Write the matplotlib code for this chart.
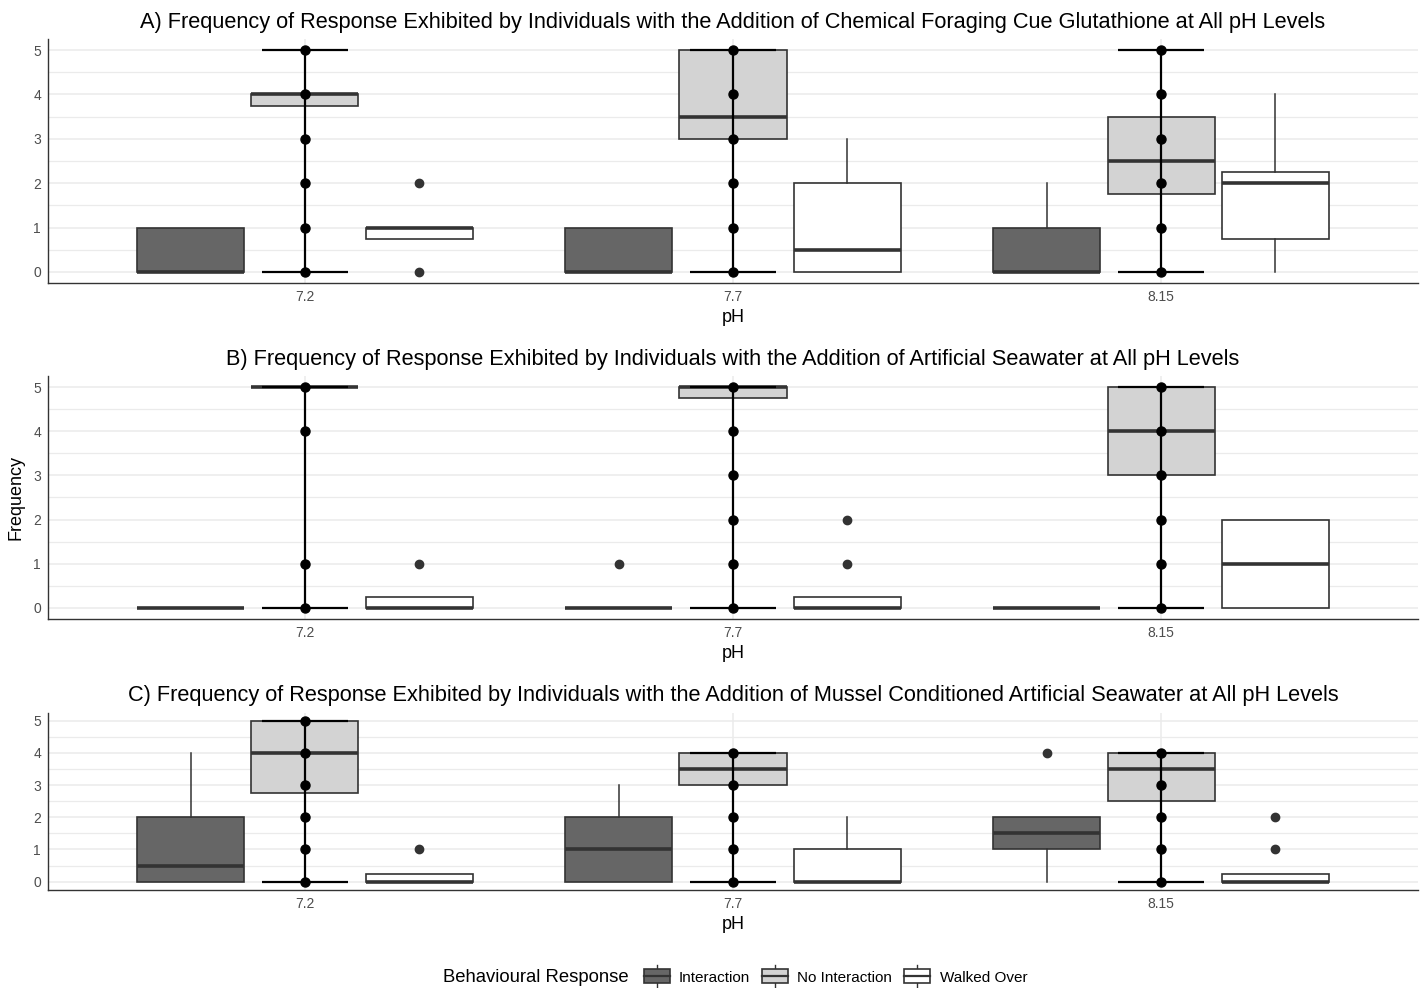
import numpy as np
import matplotlib
matplotlib.use('Agg')
from matplotlib import pyplot as plt
from matplotlib.patches import Patch, Rectangle
from matplotlib.lines import Line2D
from matplotlib.legend_handler import HandlerBase

plt.rcParams['font.family'] = ['Liberation Sans', 'DejaVu Sans']

#%% Datos
ph_niveles = ['7.2', '7.7', '8.15']
respuestas = ['Interaction', 'No Interaction', 'Walked Over']
colores = ['#666666', '#d3d3d3', '#ffffff']

titulos = [
    'A) Frequency of Response Exhibited by Individuals with the Addition of Chemical Foraging Cue Glutathione at All pH Levels',
    'B) Frequency of Response Exhibited by Individuals with the Addition of Artificial Seawater at All pH Levels',
    'C) Frequency of Response Exhibited by Individuals with the Addition of Mussel Conditioned Artificial Seawater at All pH Levels',
]

# cada caja: (bigote_inf, q1, mediana, q3, bigote_sup, atipicos), una por pH
# A) glutatión
glut_inter = [(0, 0, 0, 1, 1, []), (0, 0, 0, 1, 1, []), (0, 0, 0, 1, 2, [])]
glut_noint = [(3.75, 3.75, 4, 4, 4, []), (3, 3, 3.5, 5, 5, []), (0, 1.75, 2.5, 3.5, 5, [])]
glut_walk = [(0.75, 0.75, 1, 1, 1, [0, 2]), (0, 0, 0.5, 2, 3, []), (0, 0.75, 2, 2.25, 4, [])]
glut_puntos = [[0, 1, 2, 3, 4, 5], [0, 1, 2, 3, 4, 5], [0, 1, 2, 3, 4, 5]]

# B) agua de mar artificial
asw_inter = [(0, 0, 0, 0, 0, []), (0, 0, 0, 0, 0, [1]), (0, 0, 0, 0, 0, [])]
asw_noint = [(5, 5, 5, 5, 5, []), (4.75, 4.75, 5, 5, 5, []), (3, 3, 4, 5, 5, [])]
asw_walk = [(0, 0, 0, 0.25, 0.25, [1]), (0, 0, 0, 0.25, 0.25, [1, 2]), (0, 0, 1, 2, 2, [])]
asw_puntos = [[0, 1, 4, 5], [0, 1, 2, 3, 4, 5], [0, 1, 2, 3, 4, 5]]

# C) agua acondicionada con mejillones
mus_inter = [(0, 0, 0.5, 2, 4, []), (0, 0, 1, 2, 3, []), (0, 1, 1.5, 2, 2, [4])]
mus_noint = [(2.75, 2.75, 4, 5, 5, []), (3, 3, 3.5, 4, 4, []), (2.5, 2.5, 3.5, 4, 4, [])]
mus_walk = [(0, 0, 0, 0.25, 0.25, [1]), (0, 0, 0, 1, 2, []), (0, 0, 0, 0.25, 0.25, [1, 2])]
mus_puntos = [[0, 1, 2, 3, 4, 5], [0, 1, 2, 3, 4], [0, 1, 2, 3, 4]]

paneles = [
    (glut_inter, glut_noint, glut_walk, glut_puntos),
    (asw_inter, asw_noint, asw_walk, asw_puntos),
    (mus_inter, mus_noint, mus_walk, mus_puntos),
]

W, H = 1426, 988
BORDE = '#333333'


def rect_px(izq, arriba, der, abajo):
    """Convierte una caja en pixeles a coordenadas de figura."""
    return [izq / W, 1 - abajo / H, (der - izq) / W, (abajo - arriba) / H]


def a_stats(cajas):
    stats = []
    for lo, q1, med, q3, hi, out in cajas:
        stats.append({'whislo': lo, 'q1': q1, 'med': med, 'q3': q3,
                      'whishi': hi, 'fliers': out})
    return stats


class ManejadorCaja(HandlerBase):
    """Dibuja la clave de la leyenda como una cajita de boxplot."""
    def create_artists(self, legend, orig_handle, xdescent, ydescent,
                       width, height, fontsize, trans):
        x0, y0 = -xdescent, -ydescent
        cx = x0 + width / 2
        bigote = Line2D([cx, cx], [y0 - 0.3 * height, y0 + 1.3 * height],
                        color=BORDE, lw=1.0, transform=trans)
        caja = Rectangle((x0, y0), width, height,
                         facecolor=orig_handle.get_facecolor(),
                         edgecolor=BORDE, lw=1.2, transform=trans)
        mediana = Line2D([x0, x0 + width], [y0 + height / 2] * 2,
                         color=BORDE, lw=1.6, transform=trans)
        return [bigote, caja, mediana]


#%% Grafico
fig = plt.figure(figsize=(W / 100, H / 100), dpi=100)

posiciones = [(48, 39, 1418, 283), (48, 376, 1418, 619), (48, 712.6, 1418, 889.7)]
x_grupo = np.arange(1, len(ph_niveles) + 1)
desplaz = [-0.8 / 3, 0, 0.8 / 3]

for k, (datos, pos) in enumerate(zip(paneles, posiciones)):
    ax = fig.add_axes(rect_px(*pos))
    cajas_inter, cajas_noint, cajas_walk, puntos = datos

    for j, cajas in enumerate([cajas_inter, cajas_noint, cajas_walk]):
        ax.bxp(a_stats(cajas), positions=x_grupo + desplaz[j], widths=0.25,
               patch_artist=True, showcaps=False,
               boxprops=dict(facecolor=colores[j], edgecolor=BORDE, linewidth=1.2),
               medianprops=dict(color=BORDE, linewidth=2.6, solid_capstyle='butt'),
               whiskerprops=dict(color=BORDE, linewidth=1.1),
               flierprops=dict(marker='o', markerfacecolor=BORDE,
                               markeredgecolor=BORDE, markersize=6),
               manage_ticks=False, zorder=2)

    # barra de rango y puntos de "No Interaction"
    for i, pts in enumerate(puntos):
        xi = x_grupo[i]
        ax.vlines(xi, min(pts), max(pts), color='black', lw=1.6, zorder=4)
        ax.hlines([min(pts), max(pts)], xi - 0.1, xi + 0.1, color='black',
                  lw=1.6, zorder=4)
        ax.plot([xi] * len(pts), pts, 'o', color='black', markersize=6.5,
                zorder=5)

    ax.set_xlim(0.4, 3.6)
    ax.set_ylim(-0.25, 5.25)
    ax.set_xticks(x_grupo)
    ax.set_xticklabels(ph_niveles)
    ax.set_yticks(np.arange(0, 6))
    ax.set_yticks(np.arange(0.5, 5, 1), minor=True)
    ax.tick_params(axis='both', which='both', length=0, labelsize=10,
                   labelcolor='#4d4d4d', pad=5)
    ax.grid(which='major', color='#ebebeb', lw=1.1, zorder=0)
    ax.grid(which='minor', axis='y', color='#ebebeb', lw=0.9, zorder=0)
    ax.set_axisbelow(True)
    for lado in ['top', 'right']:
        ax.spines[lado].set_visible(False)
    for lado in ['left', 'bottom']:
        ax.spines[lado].set_color('#333333')
        ax.spines[lado].set_linewidth(1.0)

    ax.set_title(titulos[k], fontsize=15.7, pad=8)
    ax.set_xlabel('pH', fontsize=13, labelpad=4)
    if k == 1:
        ax.set_ylabel('Frequency', fontsize=13, labelpad=6)

# leyenda
fig.text(443 / W, 1 - 977 / H, 'Behavioural Response', fontsize=13.3,
         ha='left', va='center')
manijas = [Patch(facecolor=c, edgecolor=BORDE) for c in colores]
fig.legend(manijas, respuestas, loc='center left',
           bbox_to_anchor=(636 / W, 1 - 977 / H), ncol=3, frameon=False,
           fontsize=11, handlelength=1.7, handleheight=1.0,
           handletextpad=0.6, columnspacing=0.8, borderpad=0,
           handler_map={Patch: ManejadorCaja()})

fig.savefig('out.png', dpi=100)
